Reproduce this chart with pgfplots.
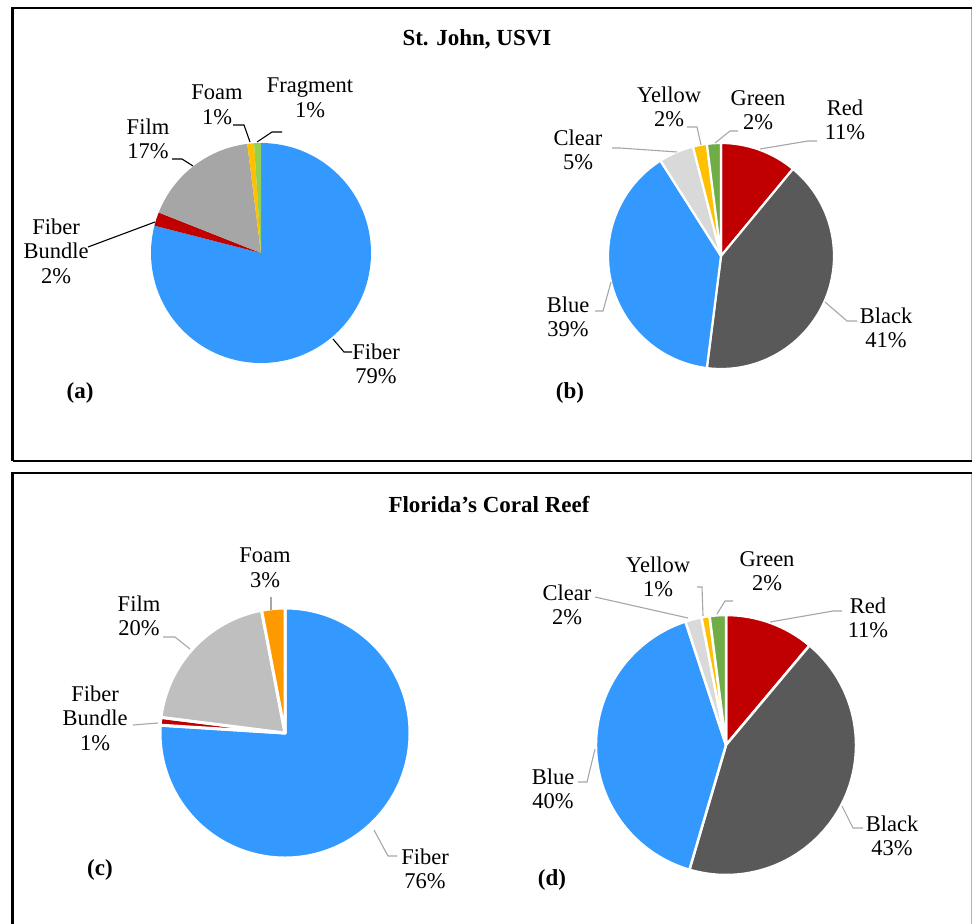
\documentclass[border=0pt]{standalone}
\usepackage{pgfplots}
\pgfplotsset{compat=1.18}
\usepackage{pgfplotstable}
\usepackage{fontspec}
\setmainfont{Liberation Serif}

\definecolor{cBlue}{HTML}{3399FF}
\definecolor{cRed}{HTML}{C00000}
\definecolor{cGreyA}{HTML}{A6A6A6}
\definecolor{cYellow}{HTML}{FFC000}
\definecolor{cGreenA}{HTML}{92D050}
\definecolor{cBlack}{HTML}{595959}
\definecolor{cClear}{HTML}{D9D9D9}
\definecolor{cGreenB}{HTML}{70AD47}
\definecolor{cGreyC}{HTML}{BFBFBF}
\definecolor{cOrange}{HTML}{FF9900}
\definecolor{cLead}{HTML}{A6A6A6}

% (a) St. John, particle type
\pgfplotstableread{
value color
79 cBlue
2 cRed
17 cGreyA
1 cYellow
1 cGreenA
}\tabA
% (b) St. John, colour
\pgfplotstableread{
value color
11 cRed
41 cBlack
39 cBlue
5 cClear
2 cYellow
2 cGreenB
}\tabB
% (c) Florida, particle type
\pgfplotstableread{
value color
76 cBlue
1 cRed
20 cGreyC
3 cOrange
}\tabC
% (d) Florida, colour
\pgfplotstableread{
value color
11 cRed
43 cBlack
40 cBlue
2 cClear
1 cYellow
2 cGreenB
}\tabD

% #1 table, #2 cx, #3 cy, #4 radius (bp), #5 border width (bp)
\newcommand{\drawpie}[5]{%
  \pgfplotsextra{%
    \pgfplotstablegetrowsof{#1}%
    \pgfmathtruncatemacro\pieN{\pgfplotsretval-1}%
    \gdef\pietot{0}%
    \foreach \i in {0,...,\pieN}{%
      \pgfplotstablegetelem{\i}{value}\of{#1}%
      \pgfmathsetmacro\tmp{\pietot+\pgfplotsretval}%
      \global\let\pietot\tmp}%
    \gdef\piecum{0}%
    \foreach \i in {0,...,\pieN}{%
      \pgfplotstablegetelem{\i}{value}\of{#1}\let\pv\pgfplotsretval
      \pgfplotstablegetelem{\i}{color}\of{#1}\let\pc\pgfplotsretval
      \pgfmathsetmacro\sa{90-(\piecum/\pietot)*360}%
      \pgfmathsetmacro\ea{90-((\piecum+\pv)/\pietot)*360}%
      \ifdim #5pt>0pt
        \filldraw[fill=\pc, draw=white, line width=#5bp, line join=round]
          (axis cs:#2,#3) -- ++(\sa:#4bp) arc[start angle=\sa, end angle=\ea, radius=#4bp] -- cycle;
      \else
        \fill[\pc] (axis cs:#2,#3) -- ++(\sa:#4bp) arc[start angle=\sa, end angle=\ea, radius=#4bp] -- cycle;
      \fi
      \pgfmathsetmacro\tmp{\piecum+\pv}%
      \global\let\piecum\tmp}%
  }%
}

\tikzset{lbl/.style={align=center, inner sep=0pt, font=\fontsize{22.5bp}{24.5bp}\selectfont},
         ttl/.style={inner sep=0pt, font=\fontsize{23bp}{25bp}\selectfont\bfseries},
         lead/.style={line width=1.1bp, cLead},
         leadk/.style={line width=1.1bp, black}}

\begin{document}
\begin{tikzpicture}
\begin{axis}[name=A, width=972bp, height=924bp, scale only axis,
  xmin=0, xmax=972, ymin=0, ymax=924, y dir=reverse,
  hide axis, clip=false]

% frames
\draw[line width=2.2bp, black] (axis cs:12.5,461) -- (axis cs:12.5,8) -- (axis cs:972,8);
\draw[line width=2.2bp, black] (axis cs:12.5,461) -- (axis cs:972,461);
\draw[line width=1bp, gray!60] (axis cs:971.5,9) -- (axis cs:971.5,460);
\draw[line width=2.2bp, black] (axis cs:12.5,930) -- (axis cs:12.5,473) -- (axis cs:972,473);
\draw[line width=1bp, gray!60] (axis cs:971.5,474) -- (axis cs:971.5,930);

% titles
\node[ttl] at (axis cs:477,39) {St. John, USVI};
\node[ttl] at (axis cs:489,505) {Florida’s Coral Reef};
\node[ttl] at (axis cs:80,393) {(a)};
\node[ttl] at (axis cs:570,393) {(b)};
\node[ttl] at (axis cs:100,870) {(c)};
\node[ttl] at (axis cs:552,880) {(d)};

% pies
\drawpie{\tabA}{261}{253}{110}{0}
\drawpie{\tabB}{721}{256}{113}{2.2}
\drawpie{\tabC}{285}{733}{125}{3}
\drawpie{\tabD}{726}{745}{130}{2.5}

% (a) leaders and labels
\draw[leadk] (axis cs:233,125) -- (axis cs:244,125) -- (axis cs:250,142);
\draw[leadk] (axis cs:282,132) -- (axis cs:272,132) -- (axis cs:257,142);
\draw[leadk] (axis cs:172,159) -- (axis cs:182,159) -- (axis cs:193,166);
\draw[leadk] (axis cs:88,247) -- (axis cs:155,222);
\draw[leadk] (axis cs:333,339) -- (axis cs:344,352) -- (axis cs:352,352);
\node[lbl] at (axis cs:217,105) {Foam\\1\%};
\node[lbl] at (axis cs:310,98) {Fragment\\1\%};
\node[lbl] at (axis cs:148,139) {Film\\17\%};
\node[lbl] at (axis cs:56,251) {Fiber\\Bundle\\2\%};
\node[lbl] at (axis cs:376,364) {Fiber\\79\%};

% (b) leaders and labels
\draw[lead] (axis cs:612,148) -- (axis cs:620,148) -- (axis cs:677,152);
\draw[lead] (axis cs:687,127) -- (axis cs:697,127) -- (axis cs:701,145);
\draw[lead] (axis cs:738,131) -- (axis cs:730,131) -- (axis cs:715,143);
\draw[lead] (axis cs:817,141) -- (axis cs:808,141) -- (axis cs:760,149);
\draw[lead] (axis cs:595,311) -- (axis cs:603,311) -- (axis cs:611,282);
\draw[lead] (axis cs:825,302) -- (axis cs:847,321) -- (axis cs:857,321);
\node[lbl] at (axis cs:669,107) {Yellow\\2\%};
\node[lbl] at (axis cs:758,110) {Green\\2\%};
\node[lbl] at (axis cs:845,120) {Red\\11\%};
\node[lbl] at (axis cs:578,150) {Clear\\5\%};
\node[lbl] at (axis cs:568,317) {Blue\\39\%};
\node[lbl] at (axis cs:886,328) {Black\\41\%};

% (c) leaders and labels
\draw[lead] (axis cs:271,597) -- (axis cs:271,610);
\draw[lead] (axis cs:163,637) -- (axis cs:175,637) -- (axis cs:190,649);
\draw[lead] (axis cs:133,725) -- (axis cs:158,723);
\draw[lead] (axis cs:374,830) -- (axis cs:388,856) -- (axis cs:397,856);
\node[lbl] at (axis cs:265,568) {Foam\\3\%};
\node[lbl] at (axis cs:139,616) {Film\\20\%};
\node[lbl] at (axis cs:95,718) {Fiber\\Bundle\\1\%};
\node[lbl] at (axis cs:425,869) {Fiber\\76\%};

% (d) leaders and labels
\draw[lead] (axis cs:595,597) -- (axis cs:688,618);
\draw[lead] (axis cs:697,587) -- (axis cs:702,587) -- (axis cs:703,616);
\draw[lead] (axis cs:733,601) -- (axis cs:725,601) -- (axis cs:717,614);
\draw[lead] (axis cs:842,611) -- (axis cs:833,611) -- (axis cs:770,622);
\draw[lead] (axis cs:578,782) -- (axis cs:587,782) -- (axis cs:595,749);
\draw[lead] (axis cs:842,806) -- (axis cs:853,828) -- (axis cs:863,828);
\node[lbl] at (axis cs:658,577) {Yellow\\1\%};
\node[lbl] at (axis cs:767,571) {Green\\2\%};
\node[lbl] at (axis cs:868,618) {Red\\11\%};
\node[lbl] at (axis cs:567,605) {Clear\\2\%};
\node[lbl] at (axis cs:553,789) {Blue\\40\%};
\node[lbl] at (axis cs:892,836) {Black\\43\%};
\end{axis}
\pgfresetboundingbox
\path[use as bounding box] (A.south west) rectangle (A.north east);
\end{tikzpicture}
\end{document}
